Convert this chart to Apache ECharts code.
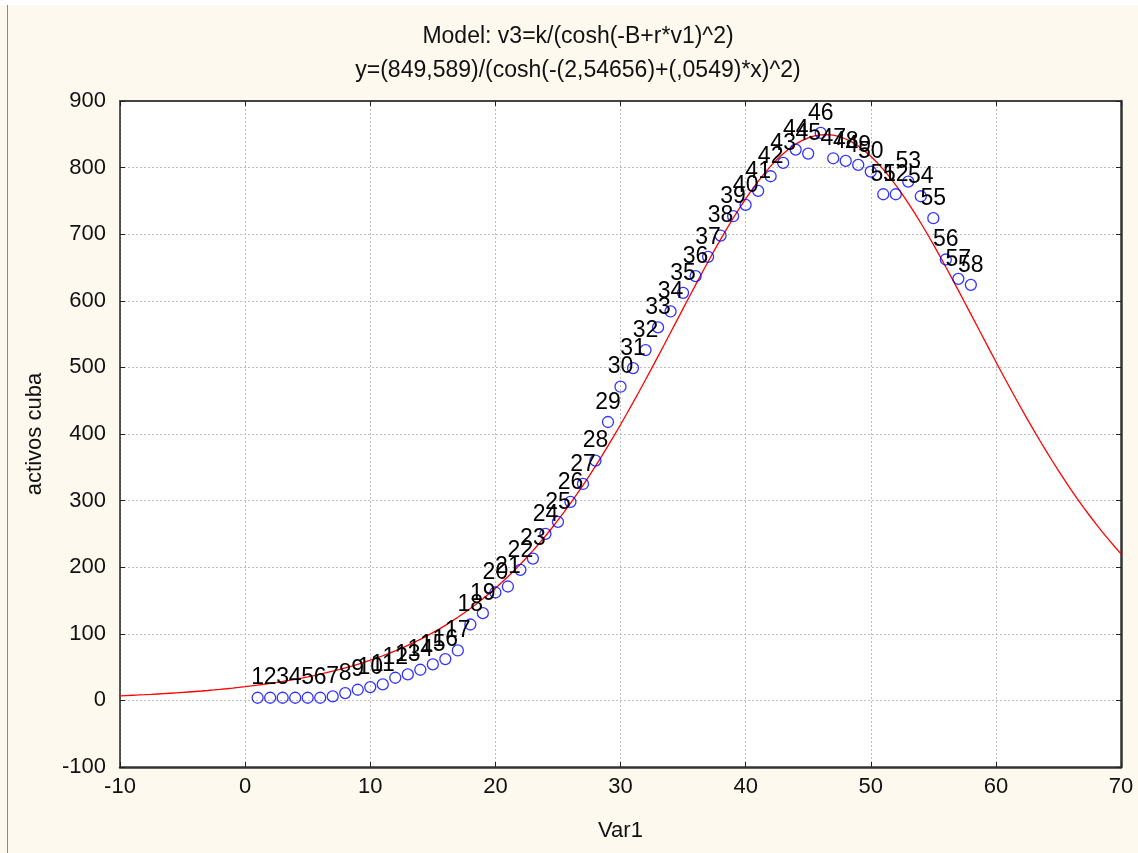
<!DOCTYPE html>
<html>
<head>
<meta charset="utf-8">
<script src="https://cdn.jsdelivr.net/npm/echarts@6/dist/echarts.min.js"></script>
<style>
  html, body { margin: 0; padding: 0; background: #fef9ee; }
  #chart { width: 1138px; height: 853px; }
</style>
</head>
<body>
<div id="chart"></div>
<script>
// Observed values: Var1 (day index) and "activos cuba"
const var1 = [
  1, 2, 3, 4, 5, 6, 7, 8, 9, 10,
  11, 12, 13, 14, 15, 16, 17, 18, 19, 20,
  21, 22, 23, 24, 25, 26, 27, 28, 29, 30,
  31, 32, 33, 34, 35, 36, 37, 38, 39, 40,
  41, 42, 43, 44, 45, 46, 47, 48, 49, 50,
  51, 52, 53, 54, 55, 56, 57, 58
];
const activos = [
  4, 4, 4, 4, 4, 4, 6, 11, 16, 20,
  24, 34, 39, 46, 54, 62, 75, 114, 131, 162,
  171, 196, 213, 250, 268, 298, 325, 360, 418, 471,
  499, 526, 560, 584, 612, 637, 666, 698, 727, 744,
  765, 787, 807, 827, 821, 852, 814, 810, 804, 794,
  760, 760, 779, 757, 724, 662, 633, 624
];

// Fitted model parameters shown in the title: y = k / cosh(-B + r*x)^2
const modelK = 849.589;
const modelB = 2.54656;
const modelR = 0.0549;

// Axis tick settings
const xTicks = { min: -10, max: 70, interval: 10 };
const yTicks = { min: -100, max: 900, interval: 100 };

const titleLine1 = 'Model: v3=k/(cosh(-B+r*v1)^2)';
const titleLine2 = 'y=(849,589)/(cosh(-(2,54656)+(,0549)*x)^2)';

// Fitted curve sampled across the x axis range
const curve = [];
for (let x = xTicks.min; x <= xTicks.max + 1e-9; x += 0.5) {
  const c = Math.cosh(-modelB + modelR * x);
  curve.push([x, modelK / (c * c)]);
}

const points = var1.map((x, i) => [x, activos[i]]);

const FONT = 'Liberation Sans, Arial, sans-serif';
const gridLine = { show: true, lineStyle: { color: '#bdbdbd', type: [2, 2], width: 1 } };
const innerTick = { show: true, inside: true, length: 5, lineStyle: { color: '#222', width: 1 } };

const chart = echarts.init(document.getElementById('chart'), null, { renderer: 'canvas' });

chart.setOption({
  backgroundColor: '#fef9ee',
  animation: false,
  textStyle: { fontFamily: FONT },
  grid: { left: 120, top: 101, right: 17, bottom: 86, show: true, backgroundColor: '#ffffff', borderWidth: 0 },
  graphic: [
    { type: 'rect', shape: { x: 0, y: 0, width: 1138, height: 5 }, style: { fill: '#ffffff' }, silent: true },
    { type: 'line', shape: { x1: 7.5, y1: 5, x2: 7.5, y2: 853 }, style: { stroke: '#8a8a8a', lineWidth: 1 }, silent: true },
    { type: 'text', silent: true,
      x: 578, y: 37, style: { text: titleLine1, font: '23px ' + FONT, fill: '#111', textAlign: 'center', textVerticalAlign: 'middle' } },
    { type: 'text', silent: true,
      x: 578, y: 71, style: { text: titleLine2, font: '23px ' + FONT, fill: '#111', textAlign: 'center', textVerticalAlign: 'middle' } }
  ],
  xAxis: [
    {
      type: 'value', min: xTicks.min, max: xTicks.max, interval: xTicks.interval,
      name: 'Var1', nameLocation: 'middle', nameGap: 53,
      nameTextStyle: { fontSize: 22, color: '#111', fontFamily: FONT },
      axisLine: { show: true, onZero: false, lineStyle: { color: '#333', width: 2.5 } },
      axisTick: innerTick,
      axisLabel: { fontSize: 22, color: '#111', margin: 9, fontFamily: FONT },
      splitLine: gridLine
    },
    {
      type: 'value', position: 'top', min: xTicks.min, max: xTicks.max, interval: xTicks.interval,
      axisLine: { show: true, onZero: false, lineStyle: { color: '#444', width: 2 } },
      axisTick: innerTick,
      axisLabel: { show: false },
      splitLine: { show: false }
    }
  ],
  yAxis: [
    {
      type: 'value', min: yTicks.min, max: yTicks.max, interval: yTicks.interval,
      name: 'activos cuba', nameLocation: 'middle', nameGap: 74, nameRotate: 90,
      nameTextStyle: { fontSize: 22, color: '#111', fontFamily: FONT },
      axisLine: { show: true, onZero: false, lineStyle: { color: '#222', width: 1.5 } },
      axisTick: innerTick,
      axisLabel: { fontSize: 22, color: '#111', margin: 14, fontFamily: FONT },
      splitLine: gridLine
    },
    {
      type: 'value', position: 'right', min: yTicks.min, max: yTicks.max, interval: yTicks.interval,
      axisLine: { show: true, onZero: false, lineStyle: { color: '#333', width: 2.5 } },
      axisTick: innerTick,
      axisLabel: { show: false },
      splitLine: { show: false }
    }
  ],
  series: [
    {
      name: 'model',
      type: 'line',
      data: curve,
      showSymbol: false,
      smooth: false,
      lineStyle: { color: '#ff0000', width: 1.3 },
      z: 2
    },
    {
      name: 'activos cuba',
      type: 'scatter',
      data: points,
      symbol: 'circle',
      symbolSize: 11,
      itemStyle: { color: 'rgba(0,0,0,0)', borderColor: '#0000ff', borderWidth: 1.3 },
      label: {
        show: true,
        position: 'top',
        distance: 2,
        formatter: (p) => String(p.dataIndex + 1),
        fontSize: 23,
        color: '#000',
        opacity: 1,
        textBorderWidth: 0,
        fontFamily: FONT
      },
      labelLayout: { hideOverlap: false },
      z: 3
    }
  ]
});
</script>
</body>
</html>
